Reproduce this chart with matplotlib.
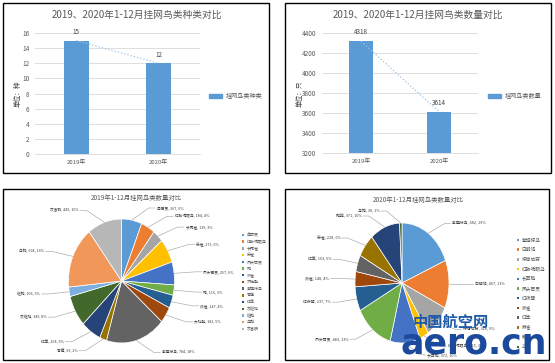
import matplotlib
matplotlib.use('Agg')
import matplotlib.pyplot as plt
from matplotlib.patches import Rectangle
import numpy as np

plt.rcParams['font.family'] = ['Noto Sans CJK SC', 'DejaVu Sans']

# ---------------- data ----------------
years = ['2019年', '2020年']
species_counts = [15, 12]
bird_totals = [4318, 3614]

names_2019 = ['角百灵', '红胁绣眼鸟', '长尾雀', '麻雀', '凤头百灵', '鹀', '燕雀', '大杜鹃',
              '紫翅椋鸟', '苍鹰', '红隼', '灰斑鸠', '斑鸫', '乌鸫', '灰喜鹊']
values_2019 = [267, 184, 139, 273, 257, 116, 147, 182, 784, 93, 264, 349, 106, 694, 449]
pct_2019 = [6, 4, 3, 6, 6, 3, 4, 5, 18, 2, 6, 8, 3, 16, 10]

names_2020 = ['紫翅椋鸟', '白鹡鸰', '棕背伯劳', '红胁绣眼鸟', '长耳鸮', '凤头百灵', '红夜鹭',
              '燕雀', '红隼', '麻雀', '鹌鹑', '乌鸫']
values_2020 = [682, 467, 318, 115, 372, 483, 237, 148, 163, 228, 371, 30]
pct_2020 = [19, 13, 9, 3, 10, 13, 7, 4, 5, 6, 10, 1]

# ---------------- style ----------------
BLUE = '#5B9BD5'
PALETTE = ['#5B9BD5', '#ED7D31', '#A5A5A5', '#FFC000', '#4472C4', '#70AD47', '#255E91',
           '#9E480E', '#636363', '#997300', '#264478', '#43682B', '#7CAFDD', '#F1975A', '#B7B7B7']
TXT = '#595959'

W, H = 555, 363
fig = plt.figure(figsize=(W / 100, H / 100), dpi=100)


def fr(x0, y0, x1, y1):
    return [x0 / W, 1 - y1 / H, (x1 - x0) / W, (y1 - y0) / H]


def ftext(x, y, s, **kw):
    fig.text(x / W, 1 - y / H, s, **kw)


# panel borders
for (x0, y0, x1, y1) in [(3, 3, 269, 173), (285, 3, 551, 173), (3, 189, 269, 360), (285, 189, 549, 360)]:
    fig.add_artist(Rectangle((x0 / W, 1 - y1 / H), (x1 - x0) / W, (y1 - y0) / H,
                             transform=fig.transFigure, fill=False, ec='black', lw=1.0))


def bar_panel(box, vals, ylim, yticks, title, title_xy, ylabel, ylabel_xy, leg_label, leg_xy):
    ax = fig.add_axes(fr(*box))
    x = np.arange(len(years))
    ax.bar(x, vals, width=0.3, color=BLUE, zorder=3)
    ax.plot(x, vals, ls=':', color='#9DC3E6', lw=0.9, zorder=4)
    ax.set_xlim(-0.5, 1.5)
    ax.set_ylim(*ylim)
    ax.set_yticks(yticks)
    ax.set_xticks(x, years)
    ax.grid(axis='y', color='#D9D9D9', lw=0.6)
    ax.set_axisbelow(True)
    for s in ['top', 'right', 'left']:
        ax.spines[s].set_visible(False)
    ax.spines['bottom'].set_color('#D9D9D9')
    ax.spines['bottom'].set_linewidth(0.6)
    ax.tick_params(axis='y', length=0, labelsize=4.6, colors=TXT, pad=4)
    ax.tick_params(axis='x', length=0, labelsize=4.3, colors=TXT, pad=4)
    for xi, v in zip(x, vals):
        ax.annotate(str(v), (xi, v), xytext=(0, 6.3), textcoords='offset points',
                    ha='center', va='center', fontsize=4.5, color='#404040')
    ftext(*title_xy, title, ha='center', va='center', fontsize=7, color=TXT)
    ftext(*ylabel_xy, ylabel, ha='center', va='center', fontsize=4.8, color='#404040', rotation=90)
    lx, ly = leg_xy
    fig.add_artist(Rectangle((lx / W, 1 - (ly + 2) / H), 13 / W, 4 / H,
                             transform=fig.transFigure, color=BLUE))
    ftext(lx + 17, ly, leg_label, ha='left', va='center', fontsize=4.4, color=TXT)
    return ax


bar_panel((35, 33, 200, 154), species_counts, (0, 16), range(0, 17, 2),
          '2019、2020年1-12月挂网鸟类种类对比', (137, 15), '单位：种', (18, 94),
          '挂网鸟类种类', (209, 96))
bar_panel((322, 33, 478, 153), bird_totals, (3200, 4400), range(3200, 4401, 200),
          '2019、2020年1-12月挂网鸟类数量对比', (418, 15), '单位：只', (300, 94),
          '挂网鸟类数量', (488, 96))


def pie_panel(cx, cy, rx, ry, names, vals, pcts, title, title_xy, lab_fs, leg_x, leg_y0, leg_dy, leg_fs):
    ax = fig.add_axes(fr(cx - 2 * rx, cy - 2 * ry, cx + 2 * rx, cy + 2 * ry))
    colors = PALETTE[:len(vals)]
    wedges, _ = ax.pie(vals, colors=colors, startangle=90, counterclock=False,
                       wedgeprops=dict(edgecolor='white', linewidth=0.5))
    ax.set_aspect('auto')
    ax.set_xlim(-2, 2)
    ax.set_ylim(-2, 2)
    ax.axis('off')
    for w, n, v, p in zip(wedges, names, vals, pcts):
        th = np.deg2rad((w.theta1 + w.theta2) / 2)
        c, s = np.cos(th), np.sin(th)
        sg = 1 if c >= 0 else -1
        xe = 0.45 * sg + 1.1 * c
        ye = 1.2 * s
        ax.plot([c, xe - sg * 0.15, xe - sg * 0.03], [s, ye, ye], color='#A6A6A6', lw=0.45,
                clip_on=False)
        ax.text(xe, ye, f'{n}, {v}, {p}%', ha='left' if sg > 0 else 'right', va='center',
                fontsize=lab_fs, color='#404040', clip_on=False)
    ftext(*title_xy, title, ha='center', va='center', fontsize=title_xy[2] if len(title_xy) > 2 else 4.6,
          color=TXT)
    for i, (n, col) in enumerate(zip(names, colors)):
        yy = leg_y0 + i * leg_dy
        fig.add_artist(Rectangle(((leg_x - 1.2) / W, 1 - (yy + 1.2) / H), 2.4 / W, 2.4 / H,
                                 transform=fig.transFigure, color=col, lw=0))
        ftext(leg_x + 3.5, yy, n, ha='left', va='center', fontsize=leg_fs, color=TXT)


pie_panel(121.5, 281, 53, 62, names_2019, values_2019, pct_2019,
          '2019年1-12月挂网鸟类数量对比', (136, 198), 2.7, 243, 235, 6.7, 2.9)
pie_panel(402, 283, 47, 60, names_2020, values_2020, pct_2020,
          '2020年1-12月挂网鸟类数量对比', (418, 200), 2.8, 518, 240, 9.7, 3.4)

# watermark
ftext(451, 322, '中国航空网', ha='center', va='center', fontsize=11, fontweight='bold',
      color='#1E5AA8')
ftext(474, 343, 'aero.cn', ha='center', va='center', fontsize=25, fontweight='bold',
      color='#1B4A9C', family=['DejaVu Sans'])

fig.savefig('out.png', dpi=100)
